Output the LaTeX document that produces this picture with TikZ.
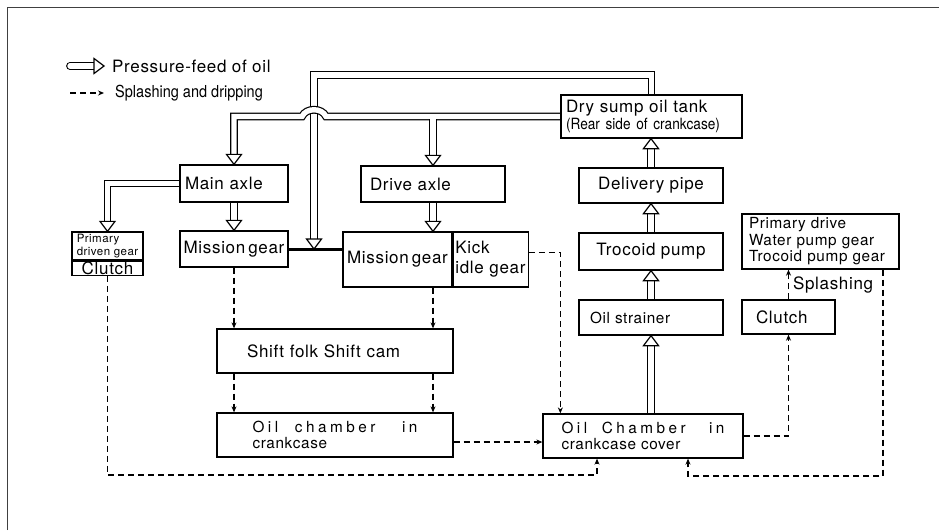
\documentclass[tikz,border=0pt]{standalone}
\usepackage{fontspec}
\setmainfont{TeX Gyre Heros}[LetterSpace=4]
\newfontfamily\condfont{TeX Gyre Heros}[FakeStretch=0.88]
\usetikzlibrary{arrows.meta, positioning, backgrounds, calc}
\newcommand\bigf{\fontsize{17}{20}\selectfont}
\newcommand\midf{\fontsize{15.3}{16.5}\selectfont}
\newcommand\smallf{\fontsize{11.5}{12.5}\selectfont}
\newcommand\spreadf{\addfontfeatures{LetterSpace=23}}
% hollow heads of the pressure-feed lines
\newcommand\headdn[1]{\draw[feedhead] (#1) -- ++(-7.5pt,10pt) -- ++(15pt,0pt) -- cycle;}
\newcommand\headup[1]{\draw[feedhead] (#1) -- ++(-7.5pt,-10pt) -- ++(15pt,0pt) -- cycle;}
\newcommand\headrt[1]{\draw[feedhead] (#1) -- ++(-10pt,7.5pt) -- ++(0pt,-15pt) -- cycle;}

\begin{document}
\begin{tikzpicture}[
    x=1pt, y=-1pt,
    box/.style={draw, line width=1.3pt, inner sep=0pt, align=center, font=\bigf},
    lbox/.style 2 args={box, align=left, inner xsep=#1, text width=#2},
    feed/.style={draw, double, double distance=5.4pt, line width=1.2pt, shorten >=10pt},
    feedhead/.style={line width=1.2pt, fill=white, line join=miter},
    splash/.style={dash pattern=on 6pt off 4pt, line width=1.1pt, -{Stealth[length=6pt,width=5pt]}},
    thickbar/.style={line width=3pt},
    lgd/.style={font=\bigf, inner sep=0pt}
]
    \useasboundingbox (0,0) rectangle (939,530);

    % Legend
    \coordinate (lgA) at (70,66);
    \coordinate (lgB) at (104,66);
    \coordinate (lgC) at (70,93);
    \coordinate (lgD) at (104,93);
    \node[lgd, right=8pt of lgB] (lgfeed) {Pressure-feed of oil};
    \node[lgd, font=\condfont\fontsize{16.5}{18}\selectfont, right=11pt of lgD] (lgsplash) {Splashing and dripping};

    % Gearbox side
    \node[lbox={5pt}{98pt}, minimum height=37] (main) at (234,183.5) {Main axle};
    \node[box, minimum width=108, minimum height=36] (mgL) at (234,249) {Mission\kern3pt gear};
    \node[box, minimum width=71, minimum height=28, font=\smallf, align=left] (prim) at (107.5,246) {Primary\\driven gear};
    \node[box, minimum width=71, minimum height=14, below=0pt of prim] (clL) {Clutch};
    \node[lbox={9pt}{126pt}, minimum height=36] (drive) at (433,184) {Drive axle};
    \node[box, minimum width=109, minimum height=55] (mgR) at (397.5,259.5) {Mission\kern3pt gear};
    \node[lbox={2pt}{71pt}, minimum height=55, font=\fontsize{17}{20}\selectfont, right=0pt of mgR] (kick) {Kick\\idle gear};
    \node[lbox={30pt}{176pt}, minimum height=44] (shift) at (335,351) {Shift folk Shift cam};
    \node[lbox={35.5pt}{165pt}, minimum height=44, font=\fontsize{15.3}{16}\selectfont] (occ) at (335,435)
        {\hbox to 165pt{\spreadf Oil\hspace{\stretch{1}}chamber\hspace{\stretch{1.6}}in}\\crankcase};

    % Oil circuit side
    \node[lbox={5pt}{171pt}, minimum height=43, font=\fontsize{17}{17}\selectfont] (tank) at (651.5,116.5)
        {Dry sump oil tank\\{\condfont\fontsize{15.5}{17}\selectfont (Rear side of crankcase)}};
    \node[box, minimum width=144, minimum height=35] (pipe) at (651,185.5) {Delivery pipe};
    \node[box, minimum width=144, minimum height=37] (pump) at (651,251.5) {Trocoid pump};
    \node[lbox={11pt}{122pt}, minimum height=35, font=\midf] (strainer) at (651,317.5) {Oil strainer};
    \node[lbox={18.5pt}{163pt}, minimum height=44, font=\fontsize{15.3}{16}\selectfont] (occv) at (643,436)
        {\hbox to 163pt{\spreadf Oil\hspace{\stretch{1}}Chamber\hspace{\stretch{1.6}}in}\\crankcase cover};
    \node[lbox={7pt}{143pt}, minimum height=55, font=\midf] (prdrive) at (820.5,241.5)
        {Primary drive\\Water pump gear\\Trocoid pump gear};
    \node[lbox={14pt}{65pt}, minimum height=34] (clR) at (788.5,317) {Clutch};

    \coordinate (loop) at (314,75);
    \coordinate (hopR) at (326,116.5);
    \coordinate (hopL) at (302,116.5);
    \coordinate (jn) at (loop |- mgL.east);
    \coordinate (lowL) at (107.5,475);
    \coordinate (lowR) at (883,476);

    \begin{scope}[on background layer]
        % frame
        \draw[line width=1pt, black!75] (7,530) -- (7,7) -- (939,7);

        % legend arrows
        \draw[feed, line cap=round] (lgA) -- (lgB);
        \headrt{lgB}
        \draw[splash] (lgC) -- (lgD);

        % pressure feed
        \draw[feed] (tank.north) |- (loop) -- (jn);
        \headdn{jn}
        \draw[feed] (tank.west) -- (hopR) .. controls +(-4,-9) and +(4,-9) .. (hopL) -| (main.north);
        \headdn{main.north}
        \draw[feed] ($(tank.west -| drive.north)+(0,2.7)$) -- (drive.north);
        \headdn{drive.north}
        \draw[feed] (main.west) -| (prim.north);
        \headdn{prim.north}
        \draw[feed] (main.south) -- (mgL.north);
        \headdn{mgL.north}
        \draw[feed] (drive.south) -- (drive.south |- mgR.north);
        \headdn{drive.south |- mgR.north}
        \draw[feed] (pipe.north) -- (pipe.north |- tank.south);
        \headup{pipe.north |- tank.south}
        \draw[feed] (pump.north) -- (pipe.south);
        \headup{pipe.south}
        \draw[feed] (strainer.north) -- (pump.south);
        \headup{pump.south}
        \draw[feed] (strainer.south |- occv.north) -- (strainer.south);
        \headup{strainer.south}
        \draw[thickbar] (mgL.east) -- (mgL.east -| mgR.west);

        % splashing and dripping
        \draw[splash] (mgL.south) -- (mgL.south |- shift.north);
        \draw[splash] (drive.south |- mgR.south) -- (drive.south |- shift.north);
        \draw[splash] (mgL.south |- shift.south) -- (mgL.south |- occ.north);
        \draw[splash] (drive.south |- shift.south) -- (drive.south |- occ.north);
        \draw[splash] ([yshift=-7pt]occ.east) -- ([yshift=-7pt]occ.east -| occv.west);
        \draw[splash] ([yshift=7pt]kick.east) -| ([xshift=18pt]occv.north west);
        \draw[splash] (clL.south) -- (lowL) -| ([xshift=-46pt]occv.south);
        \draw[splash] (occv.east) -| (clR.south);
        \draw[splash] (clR.north) -- node[right=4pt, font=\bigf, inner sep=0pt] (splt) {Splashing} (clR.north |- prdrive.south);
        \draw[splash] (lowR |- prdrive.south) -- (lowR) -| ([xshift=45pt]occv.south);
    \end{scope}
\end{tikzpicture}
\end{document}
